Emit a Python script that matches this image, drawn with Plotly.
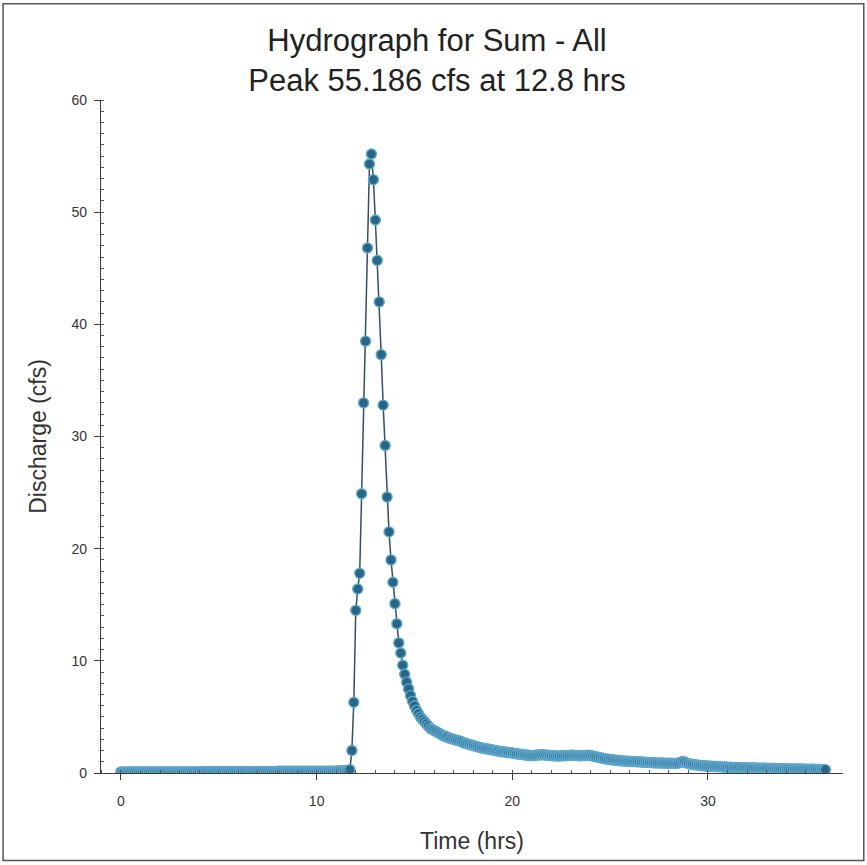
import plotly.graph_objects as go

# discharge (cfs), one row per hour, 0.1 hr step
discharge = [
    0.1, 0.1, 0.1, 0.1, 0.1, 0.1, 0.1, 0.1, 0.1, 0.1,
    0.1, 0.1, 0.1, 0.1, 0.1, 0.1, 0.1, 0.1, 0.1, 0.1,
    0.1, 0.1, 0.1, 0.1, 0.1, 0.1, 0.1, 0.1, 0.1, 0.1,
    0.1, 0.1, 0.1, 0.1, 0.1, 0.1, 0.1, 0.1, 0.1, 0.1,
    0.12, 0.12, 0.12, 0.12, 0.12, 0.12, 0.12, 0.12, 0.12, 0.12,
    0.12, 0.12, 0.12, 0.12, 0.12, 0.12, 0.12, 0.12, 0.12, 0.12,
    0.12, 0.12, 0.12, 0.12, 0.12, 0.12, 0.12, 0.12, 0.12, 0.12,
    0.12, 0.12, 0.12, 0.12, 0.12, 0.12, 0.12, 0.12, 0.12, 0.12,
    0.15, 0.15, 0.15, 0.15, 0.15, 0.15, 0.15, 0.15, 0.15, 0.15,
    0.15, 0.15, 0.15, 0.15, 0.15, 0.15, 0.15, 0.15, 0.15, 0.15,
    0.15, 0.15, 0.15, 0.15, 0.15, 0.15, 0.15, 0.15, 0.15, 0.15,
    0.18, 0.18, 0.19, 0.19, 0.2, 0.2, 0.22, 0.3, 2.0, 6.3,
    14.5, 16.4, 17.8, 24.9, 33.0, 38.5, 46.8, 54.3, 55.186, 52.9,
    49.3, 45.7, 42.0, 37.3, 32.8, 29.2, 24.6, 21.5, 19.0, 17.0,
    15.1, 13.3, 11.6, 10.7, 9.6, 8.8, 8.1, 7.5, 6.9, 6.4,
    6.0, 5.6, 5.3, 5.0, 4.8, 4.6, 4.4, 4.2, 4.0, 3.9,
    3.8, 3.7, 3.6, 3.5, 3.4, 3.3, 3.25, 3.2, 3.1, 3.05,
    3.0, 2.95, 2.9, 2.85, 2.8, 2.7, 2.65, 2.6, 2.55, 2.5,
    2.45, 2.4, 2.35, 2.3, 2.25, 2.2, 2.18, 2.15, 2.12, 2.1,
    2.05, 2.0, 1.98, 1.95, 1.92, 1.9, 1.88, 1.85, 1.82, 1.8,
    1.78, 1.75, 1.72, 1.7, 1.68, 1.65, 1.62, 1.6, 1.58, 1.55,
    1.55, 1.56, 1.58, 1.6, 1.62, 1.63, 1.62, 1.6, 1.58, 1.56,
    1.55, 1.54, 1.53, 1.52, 1.52, 1.53, 1.54, 1.55, 1.56, 1.57,
    1.58, 1.58, 1.57, 1.56, 1.55, 1.54, 1.55, 1.56, 1.57, 1.58,
    1.56, 1.52, 1.48, 1.44, 1.4, 1.36, 1.32, 1.28, 1.25, 1.22,
    1.2, 1.18, 1.16, 1.14, 1.12, 1.1, 1.08, 1.07, 1.06, 1.05,
    1.04, 1.03, 1.02, 1.01, 1.0, 0.99, 0.98, 0.97, 0.96, 0.95,
    0.94, 0.93, 0.92, 0.91, 0.9, 0.9, 0.89, 0.89, 0.88, 0.88,
    0.87, 0.87, 0.86, 0.86, 0.86, 0.9, 0.97, 1.02, 0.98, 0.9,
    0.84, 0.8, 0.77, 0.74, 0.72, 0.7, 0.68, 0.66, 0.64, 0.63,
    0.62, 0.61, 0.6, 0.59, 0.58, 0.57, 0.56, 0.55, 0.54, 0.53,
    0.52, 0.51, 0.5, 0.5, 0.49, 0.49, 0.48, 0.48, 0.47, 0.47,
    0.46, 0.46, 0.45, 0.45, 0.44, 0.44, 0.43, 0.43, 0.42, 0.42,
    0.41, 0.41, 0.4, 0.4, 0.4, 0.39, 0.39, 0.39, 0.38, 0.38,
    0.37, 0.37, 0.37, 0.36, 0.36, 0.36, 0.35, 0.35, 0.35, 0.34,
    0.34, 0.34, 0.33, 0.33, 0.33, 0.32, 0.32, 0.31, 0.31, 0.3,
    0.3,
]
time_hrs = [round(i * 0.1, 1) for i in range(len(discharge))]

title_lines = ["Hydrograph for Sum - All", "Peak 55.186 cfs at 12.8 hrs"]
x_title = "Time (hrs)"
y_title = "Discharge (cfs)"

font = "Liberation Sans, Arial, sans-serif"

fig = go.Figure()
fig.add_trace(go.Scatter(
    x=time_hrs, y=discharge, mode="lines+markers",
    line=dict(color="#34505e", width=1.5),
    marker=dict(size=10, color="#2a6684", line=dict(color="#5fa8cf", width=1.4)),
    showlegend=False,
))

axis_common = dict(
    showline=True, linecolor="#3a3a3a", linewidth=1.2,
    showgrid=False, zeroline=False,
    ticks="outside", ticklen=6, tickcolor="#3a3a3a", tickwidth=1.2,
    tickfont=dict(family=font, size=14, color="#333333"),
    minor=dict(ticks="inside", ticklen=3, dtick=1, tickcolor="#555555", tickwidth=1),
)

fig.update_xaxes(range=[-1.02, 36.9], dtick=10, tick0=0, ticklabelstandoff=9,
                 title=dict(text=x_title, font=dict(family=font, size=23, color="#333333"), standoff=24),
                 **axis_common)
fig.update_yaxes(range=[0, 60], dtick=10, tick0=0, ticklabelstandoff=4,
                 title=dict(text=y_title, font=dict(family=font, size=23, color="#333333"), standoff=18),
                 **axis_common)

fig.update_layout(
    width=867, height=865,
    margin=dict(l=101, r=24, t=100, b=92),
    paper_bgcolor="white", plot_bgcolor="white",
    title=dict(text="<br>".join(title_lines), x=0.504, xanchor="center", xref="container",
               y=0.941, yanchor="middle", yref="container",
               font=dict(family=font, size=31, color="#222222")),
    shapes=[dict(type="rect", xref="paper", yref="paper",
                 x0=-0.132, x1=1.028, y0=-0.13, y1=1.143,
                 line=dict(color="#555555", width=1.5))],
)

fig.write_html("out.html", config={"displayModeBar": False},
               post_script="document.body.style.margin='0';")
